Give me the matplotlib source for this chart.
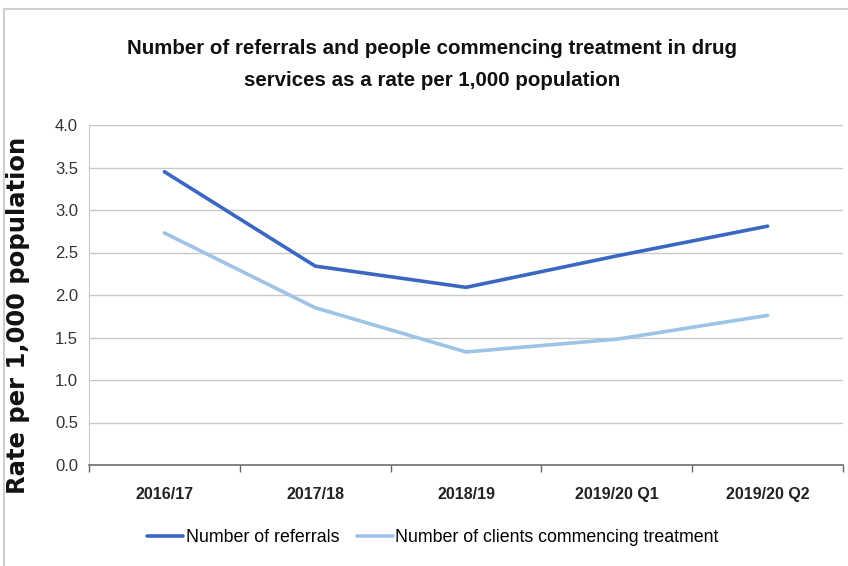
import matplotlib
matplotlib.use("Agg")
import matplotlib.pyplot as plt
from matplotlib.lines import Line2D
from matplotlib import font_manager

periods = ["2016/17", "2017/18", "2018/19", "2019/20 Q1", "2019/20 Q2"]
referrals = [3.45, 2.34, 2.09, 2.46, 2.81]
commencing = [2.73, 1.85, 1.33, 1.48, 1.76]
y_ticks = [0.0, 0.5, 1.0, 1.5, 2.0, 2.5, 3.0, 3.5, 4.0]

names = {f.name for f in font_manager.fontManager.ttflist}
narrow = "Liberation Sans Narrow" if "Liberation Sans Narrow" in names else "Liberation Sans"

fig = plt.figure(figsize=(8.48, 5.66), dpi=100)
ax = fig.add_axes([89 / 848, 1 - 465 / 566, (843 - 89) / 848, (465 - 125) / 566])

x = list(range(len(periods)))
ax.plot(x, referrals, color="#3A67C2", lw=2.6, solid_capstyle="round",
        label="Number of referrals", zorder=3)
ax.plot(x, commencing, color="#9DC3E6", lw=2.6, solid_capstyle="round",
        label="Number of clients commencing treatment", zorder=3)

ax.set_xlim(-0.5, len(periods) - 0.5)
ax.set_ylim(0, 4.0)
ax.set_yticks(y_ticks)
ax.set_yticklabels([f"{v:.1f}" for v in y_ticks], fontfamily=narrow, fontsize=12, color="#333333")
ax.set_xticks(x)
ax.set_xticklabels(periods, fontfamily=narrow, fontsize=11.5, fontweight="bold", color="#222222")
ax.set_xticks([i - 0.5 for i in range(len(periods) + 1)], minor=True)
ax.tick_params(axis="x", which="major", length=0, pad=16)
ax.tick_params(axis="x", which="minor", length=5, color="#666666", width=1)
ax.tick_params(axis="y", length=0, pad=8)

ax.grid(axis="y", color="#C8C8C8", lw=1)
ax.set_axisbelow(True)
for s in ("top", "right"):
    ax.spines[s].set_visible(False)
ax.spines["left"].set_color("#C8C8C8")
ax.spines["bottom"].set_color("#6E6E6E")
ax.spines["bottom"].set_linewidth(1.2)

ax.set_ylabel("Rate per 1,000 population", fontfamily="DejaVu Sans", fontweight="bold",
              fontsize=17.5, color="#111111")
ax.yaxis.set_label_coords(-59 / 754, 0.44)

title_kw = dict(ha="center", va="center", fontfamily=narrow, fontweight="bold",
                fontsize=14.8, color="#111111")
fig.text(432 / 848, 1 - 49 / 566, "Number of referrals and people commencing treatment in drug", **title_kw)
fig.text(432 / 848, 1 - 80 / 566, "services as a rate per 1,000 population", **title_kw)

leg = fig.legend(loc="center", bbox_to_anchor=(433 / 848, 1 - 538 / 566), ncol=2, frameon=False,
                 prop={"family": narrow, "size": 12.8}, handlelength=2.0, handletextpad=0.15,
                 columnspacing=1.0)

# outer chart frame
fig.add_artist(Line2D([4 / 848, 1], [1 - 9 / 566, 1 - 9 / 566], color="#D0D0D0", lw=1.5,
                      transform=fig.transFigure))
fig.add_artist(Line2D([4 / 848, 4 / 848], [0, 1 - 9 / 566], color="#D0D0D0", lw=1.5,
                      transform=fig.transFigure))

fig.savefig("out.png", dpi=100)
